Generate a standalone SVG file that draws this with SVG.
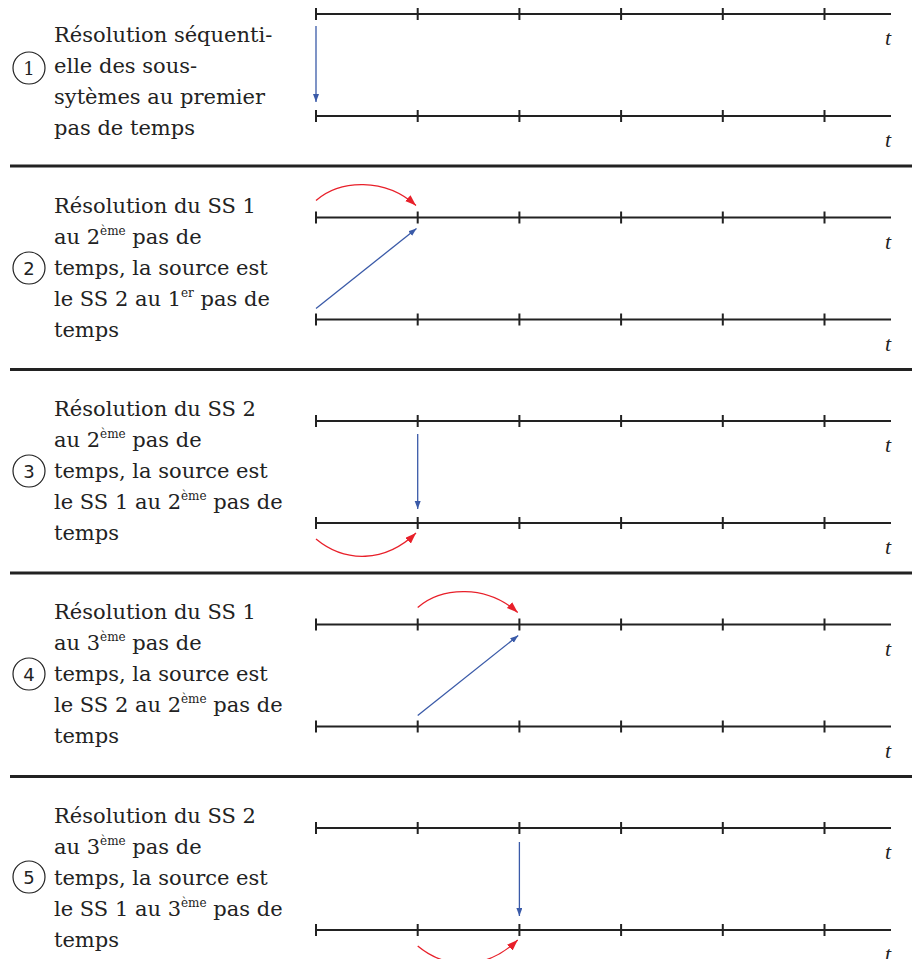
<svg xmlns="http://www.w3.org/2000/svg" width="912" height="959" viewBox="0 0 912 959">
<style>
.ax{stroke:#222;stroke-width:2;fill:none}
.sep{stroke:#222;stroke-width:3}
.lbl{font-family:'DejaVu Serif',serif;font-size:21px;fill:#222}
.sup{font-size:12px}
.t{font-family:'Liberation Serif',serif;font-style:italic;font-size:22px;fill:#222}
.circ{fill:none;stroke:#222;stroke-width:1.2}
.num{font-family:'DejaVu Sans',sans-serif;font-size:18px;fill:#222;text-anchor:middle}
.blue{stroke:#3a5aa8;stroke-width:1.3;fill:none}
.red{stroke:#e8202a;stroke-width:1.3;fill:none}
</style>
<defs>
<marker id="ab" markerUnits="userSpaceOnUse" markerWidth="9" markerHeight="7" refX="8" refY="3" orient="auto"><path d="M0,0 L8,3 L0,6 z" fill="#3a5aa8"/></marker>
<marker id="ar" markerUnits="userSpaceOnUse" markerWidth="12" markerHeight="9" refX="11" refY="4" orient="auto"><path d="M0,0 L11,4 L0,8 z" fill="#e8202a"/></marker>
<g id="axis">
<path class="ax" d="M316,0 H891 M316,-6 V6 M417.7,-6 V6 M519.4,-6 V6 M621.1,-6 V6 M722.8,-6 V6 M824.5,-6 V6"/>
<text class="t" x="885" y="31">t</text>
</g>
</defs>
<rect width="912" height="959" fill="#fff"/>
<g id="separators">
<line class="sep" x1="10" y1="166" x2="912" y2="166"/>
<line class="sep" x1="10" y1="369.5" x2="912" y2="369.5"/>
<line class="sep" x1="10" y1="573" x2="912" y2="573"/>
<line class="sep" x1="10" y1="776.5" x2="912" y2="776.5"/>
</g>
<g id="panel1">
<use href="#axis" y="14"/><use href="#axis" y="116"/>
<circle class="circ" cx="29" cy="68" r="16"/>
<text class="num" x="29" y="74.5" style="font-family:'DejaVu Serif',serif">1</text>
<text class="lbl" x="54" y="42">Résolution séquenti-</text>
<text class="lbl" x="54" y="73">elle des sous-</text>
<text class="lbl" x="54" y="104">sytèmes au premier</text>
<text class="lbl" x="54" y="135">pas de temps</text>
</g>
<g id="panel2">
<use href="#axis" y="217.5"/><use href="#axis" y="319.5"/>
<circle class="circ" cx="29" cy="268" r="16"/>
<text class="num" x="29" y="274.5">2</text>
<text class="lbl" x="54" y="213">Résolution du SS 1</text>
<text class="lbl" x="54" y="244">au 2<tspan class="sup" dy="-9">ème</tspan><tspan dy="9"> pas de</tspan></text>
<text class="lbl" x="54" y="275">temps, la source est</text>
<text class="lbl" x="54" y="306">le SS 2 au 1<tspan class="sup" dy="-9">er</tspan><tspan dy="9"> pas de</tspan></text>
<text class="lbl" x="54" y="337">temps</text>
</g>
<g id="panel3">
<use href="#axis" y="421"/><use href="#axis" y="523"/>
<circle class="circ" cx="29" cy="471" r="16"/>
<text class="num" x="29" y="477.5">3</text>
<text class="lbl" x="54" y="416">Résolution du SS 2</text>
<text class="lbl" x="54" y="447">au 2<tspan class="sup" dy="-9">ème</tspan><tspan dy="9"> pas de</tspan></text>
<text class="lbl" x="54" y="478">temps, la source est</text>
<text class="lbl" x="54" y="509">le SS 1 au 2<tspan class="sup" dy="-9">ème</tspan><tspan dy="9"> pas de</tspan></text>
<text class="lbl" x="54" y="540">temps</text>
</g>
<g id="panel4">
<use href="#axis" y="624.5"/><use href="#axis" y="726.5"/>
<circle class="circ" cx="29" cy="674" r="16"/>
<text class="num" x="29" y="680.5">4</text>
<text class="lbl" x="54" y="619">Résolution du SS 1</text>
<text class="lbl" x="54" y="650">au 3<tspan class="sup" dy="-9">ème</tspan><tspan dy="9"> pas de</tspan></text>
<text class="lbl" x="54" y="681">temps, la source est</text>
<text class="lbl" x="54" y="712">le SS 2 au 2<tspan class="sup" dy="-9">ème</tspan><tspan dy="9"> pas de</tspan></text>
<text class="lbl" x="54" y="743">temps</text>
</g>
<g id="panel5">
<use href="#axis" y="828"/><use href="#axis" y="930"/>
<circle class="circ" cx="29" cy="877" r="16"/>
<text class="num" x="29" y="883.5">5</text>
<text class="lbl" x="54" y="823">Résolution du SS 2</text>
<text class="lbl" x="54" y="854">au 3<tspan class="sup" dy="-9">ème</tspan><tspan dy="9"> pas de</tspan></text>
<text class="lbl" x="54" y="885">temps, la source est</text>
<text class="lbl" x="54" y="916">le SS 1 au 3<tspan class="sup" dy="-9">ème</tspan><tspan dy="9"> pas de</tspan></text>
<text class="lbl" x="54" y="947">temps</text>
</g>
<g id="connectors">
<path class="blue" marker-end="url(#ab)" d="M316,26 V102"/>
<path class="red" marker-end="url(#ar)" d="M316,200.5 C340,179.5 385,177.5 416,205.5"/>
<path class="blue" marker-end="url(#ab)" d="M316,308.5 L416.5,228.5"/>
<path class="blue" marker-end="url(#ab)" d="M417.7,434 V509"/>
<path class="red" marker-end="url(#ar)" d="M316,539 C345,563 385,563 416,533"/>
<path class="red" marker-end="url(#ar)" d="M417.7,607.5 C441.7,586.5 486.7,584.5 517.7,612.5"/>
<path class="blue" marker-end="url(#ab)" d="M417.7,715.5 L518.2,635.5"/>
<path class="blue" marker-end="url(#ab)" d="M519.4,842 V916"/>
<path class="red" marker-end="url(#ar)" d="M417.7,946 C446.7,970 486.7,970 517.7,940"/>
</g>
</svg>
